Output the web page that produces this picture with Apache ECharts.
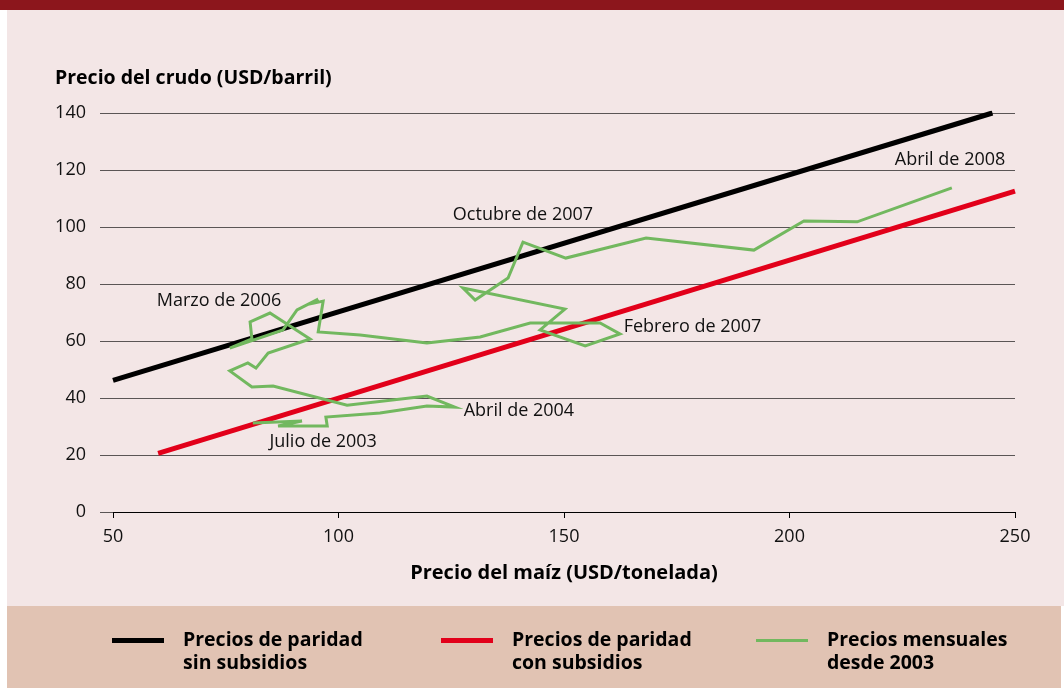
<!DOCTYPE html>
<html>
<head>
<meta charset="utf-8">
<script src="https://cdn.jsdelivr.net/npm/echarts@6/dist/echarts.min.js"></script>
<style>
html,body{margin:0;padding:0;background:#fff;}
#chart{width:1064px;height:688px;}
</style>
</head>
<body>
<div id="chart"></div>
<script>
// ---- Data ----
const xTickValues = [50, 100, 150, 200, 250];
const yTickValues = [0, 20, 40, 60, 80, 100, 120, 140];

const seriesNames = [
  'Precios de paridad\nsin subsidios',
  'Precios de paridad\ncon subsidios',
  'Precios mensuales\ndesde 2003'
];

// Parity line without subsidies (corn USD/t, crude USD/bbl)
const paritySinX = [50, 245];
const paritySinY = [46.2, 140];

// Parity line with subsidies
const parityConX = [60, 250];
const parityConY = [20.6, 112.6];

// Monthly prices since July 2003 (corn USD/t, crude USD/bbl)
const cornMonthly = [81.0, 91.9, 86.6, 97.5, 97.2, 109.2, 119.6, 125.8, 119.6, 101.9,
  85.5, 80.8, 75.9, 79.9, 81.7, 84.4, 93.7, 84.8, 80.4, 80.8, 75.9,
  87.7, 90.8, 95.5, 93.7, 96.6, 95.5, 104.8, 119.6, 131.4,
  142.5, 158.0, 162.4, 154.7, 144.7, 150.2, 127.6, 130.3, 137.6, 140.9,
  150.4, 168.2, 192.1, 203.2, 215.0, 236.0];
const crudeMonthly = [31.2, 31.9, 30.2, 30.2, 33.3, 34.7, 37.2, 36.8, 40.7, 37.5,
  44.2, 43.9, 49.5, 52.3, 50.5, 55.8, 60.7, 69.8, 66.7, 60.7, 57.5,
  63.9, 70.9, 74.7, 73.0, 74.0, 63.2, 62.1, 59.3, 61.4,
  66.3, 66.3, 62.5, 58.3, 63.9, 71.2, 78.6, 74.4, 82.1, 94.7,
  89.1, 96.1, 91.9, 102.1, 101.8, 113.7];

// Annotation texts and their anchor (data coordinates)
const annotationTexts = ['Abril de 2008', 'Octubre de 2007', 'Marzo de 2006', 'Febrero de 2007', 'Abril de 2004', 'Julio de 2003'];
const annotationX = [235.6, 140.9, 73.5, 178.5, 140.0, 96.6];
const annotationY = [123.5, 104.2, 74.0, 64.9, 35.4, 24.6];

// ---- Chart ----
const FONT = '"Open Sans", "Noto Sans", sans-serif';
const chart = echarts.init(document.getElementById('chart'));

const zip = (a, b) => a.map((v, i) => [v, b[i]]);

function legendFor(name, left, h) {
  return {
    show: true,
    data: [{ name: name, icon: 'rect' }],
    left: left,
    top: 606,
    padding: 0,
    itemWidth: 52,
    itemHeight: h,
    itemGap: 0,
    selectedMode: false,
    formatter: n => ' \n' + n,
    textStyle: {
      fontFamily: FONT, fontSize: 19.5, fontWeight: 'bold', color: '#000',
      lineHeight: 23, padding: [0, 0, 0, 14]
    }
  };
}

const option = {
  backgroundColor: '#ffffff',
  animation: false,
  graphic: [
    { type: 'rect', z: -100, silent: true, shape: { x: 7, y: 0, width: 1057, height: 606 }, style: { fill: '#F3E6E6' } },
    { type: 'rect', z: -90, silent: true, shape: { x: 0, y: 0, width: 1064, height: 10 }, style: { fill: '#8C161C' } },
    { type: 'rect', z: -100, silent: true, shape: { x: 7, y: 606, width: 1054, height: 82 }, style: { fill: '#E1C3B3' } }
  ],
  legend: [
    legendFor(seriesNames[0], 112, 5),
    legendFor(seriesNames[1], 441, 5),
    legendFor(seriesNames[2], 756, 3)
  ],
  grid: { left: 113, right: 49, top: 113, bottom: 176, containLabel: false },
  xAxis: {
    type: 'value',
    min: xTickValues[0],
    max: xTickValues[xTickValues.length - 1],
    interval: xTickValues[1] - xTickValues[0],
    name: 'Precio del maíz (USD/tonelada)',
    nameLocation: 'middle',
    nameGap: 51,
    nameTextStyle: { fontFamily: FONT, fontSize: 20, fontWeight: 'bold', color: '#000' },
    axisLine: { show: true, lineStyle: { color: '#000', width: 1 } },
    axisTick: { show: true, length: 6, lineStyle: { color: '#000' } },
    axisLabel: { fontFamily: FONT, fontSize: 18, color: '#111', margin: 16 },
    splitLine: { show: false }
  },
  yAxis: {
    type: 'value',
    min: yTickValues[0],
    max: yTickValues[yTickValues.length - 1],
    interval: yTickValues[1] - yTickValues[0],
    name: 'Precio del crudo (USD/barril)',
    nameLocation: 'end',
    nameGap: 25,
    nameTextStyle: { fontFamily: FONT, fontSize: 19.5, fontWeight: 'bold', color: '#000', align: 'left', padding: [0, 0, 0, -58] },
    axisLine: { show: false },
    axisTick: { show: true, length: 13, lineStyle: { color: '#5a5555' } },
    axisLabel: { fontFamily: FONT, fontSize: 18, color: '#111', margin: 27 },
    splitLine: { show: true, lineStyle: { color: '#5a5555', width: 1 } }
  },
  series: [
    {
      name: seriesNames[0], type: 'line', data: zip(paritySinX, paritySinY),
      showSymbol: false, symbol: 'none', z: 3,
      lineStyle: { color: '#000', width: 5 }, itemStyle: { color: '#000' }
    },
    {
      name: seriesNames[1], type: 'line', data: zip(parityConX, parityConY),
      showSymbol: false, symbol: 'none', z: 3,
      lineStyle: { color: '#E2001A', width: 5 }, itemStyle: { color: '#E2001A' }
    },
    {
      name: seriesNames[2], type: 'line', data: zip(cornMonthly, crudeMonthly),
      showSymbol: false, symbol: 'none', z: 4,
      lineStyle: { color: '#72B85F', width: 3, join: 'miter' }, itemStyle: { color: '#72B85F' }
    },
    {
      name: 'annotations', type: 'scatter', symbolSize: 0, silent: true, z: 5,
      itemStyle: { opacity: 1, color: 'transparent' },
      data: annotationTexts.map((t, i) => ({ name: t, value: [annotationX[i], annotationY[i]] })),
      label: {
        show: true, position: 'inside', formatter: p => p.name,
        fontFamily: FONT, fontSize: 18, color: '#111', opacity: 1
      }
    }
  ]
};
chart.setOption(option);
</script>
</body>
</html>
